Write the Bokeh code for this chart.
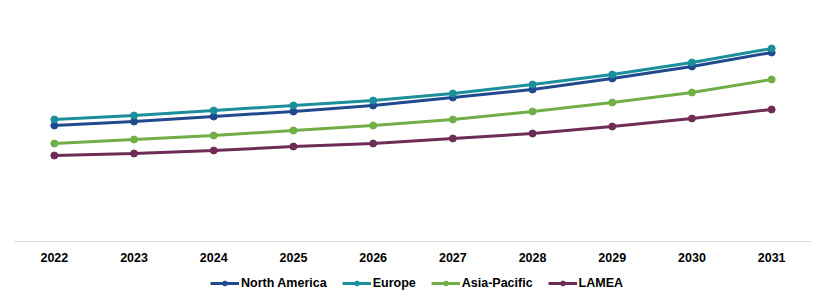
from bokeh.plotting import figure
from bokeh.models import Legend, LegendItem, Range1d, FactorRange
from bokeh.layouts import column
from bokeh.embed import file_html
from bokeh.resources import INLINE

years = ["2022", "2023", "2024", "2025", "2026", "2027", "2028", "2029", "2030", "2031"]
north_america = [116, 120, 125, 130, 136, 144, 152, 163, 175, 189]
europe = [122, 126, 131, 136, 141, 148, 157, 167, 179, 193]
asia_pacific = [98, 102, 106, 111, 116, 122, 130, 139, 149, 162]
lamea = [86, 88, 91, 95, 98, 103, 108, 115, 123, 132]

series = [
    ("North America", north_america, "#214A8E"),
    ("Europe", europe, "#1B8F9C"),
    ("Asia-Pacific", asia_pacific, "#71AE46"),
    ("LAMEA", lamea, "#6F2C57"),
]

p = figure(width=827, height=270, x_range=FactorRange(*years), y_range=Range1d(0, 231),
           output_backend="svg", toolbar_location=None, y_axis_location=None,
           min_border_left=14, min_border_right=16, min_border_top=10, min_border_bottom=29)
p.outline_line_color = None
p.xgrid.visible = False
p.ygrid.visible = False
p.background_fill_color = "white"
p.border_fill_color = "white"

ax = p.xaxis[0]
ax.axis_line_color = "#D9D9D9"
ax.axis_line_width = 1
ax.major_tick_line_color = None
ax.minor_tick_line_color = None
ax.major_label_text_font = "Liberation Sans"
ax.major_label_text_font_style = "bold"
ax.major_label_text_font_size = "12.5px"
ax.major_label_text_color = "#000000"
ax.major_label_standoff = 5

for name, vals, color in series:
    p.line(years, vals, line_color=color, line_width=3)
    p.scatter(years, vals, size=7, fill_color=color, line_color=color)

# legend strip
lg = figure(width=827, height=34, x_range=Range1d(10, 11), y_range=Range1d(10, 11),
            output_backend="svg", toolbar_location=None, x_axis_location=None,
            y_axis_location=None, min_border=0)
lg.outline_line_color = None
lg.xgrid.visible = False
lg.ygrid.visible = False
items = []
for name, vals, color in series:
    r1 = lg.line([0, 1], [0, 1], line_color=color, line_width=3)
    r2 = lg.scatter([0], [0], size=7, fill_color=color, line_color=color)
    items.append(LegendItem(label=name, renderers=[r1, r2]))

legend = Legend(items=items, orientation="horizontal", location=(196, 14),
                label_text_font="Liberation Sans", label_text_font_style="bold",
                label_text_font_size="12.5px", label_text_color="#000000",
                glyph_width=29, glyph_height=12, label_standoff=2, spacing=15,
                padding=0, margin=0, border_line_color=None, background_fill_alpha=0)
lg.add_layout(legend, "center")

layout = column(p, lg, spacing=0)
open("out.html", "w").write(file_html(layout, INLINE))
